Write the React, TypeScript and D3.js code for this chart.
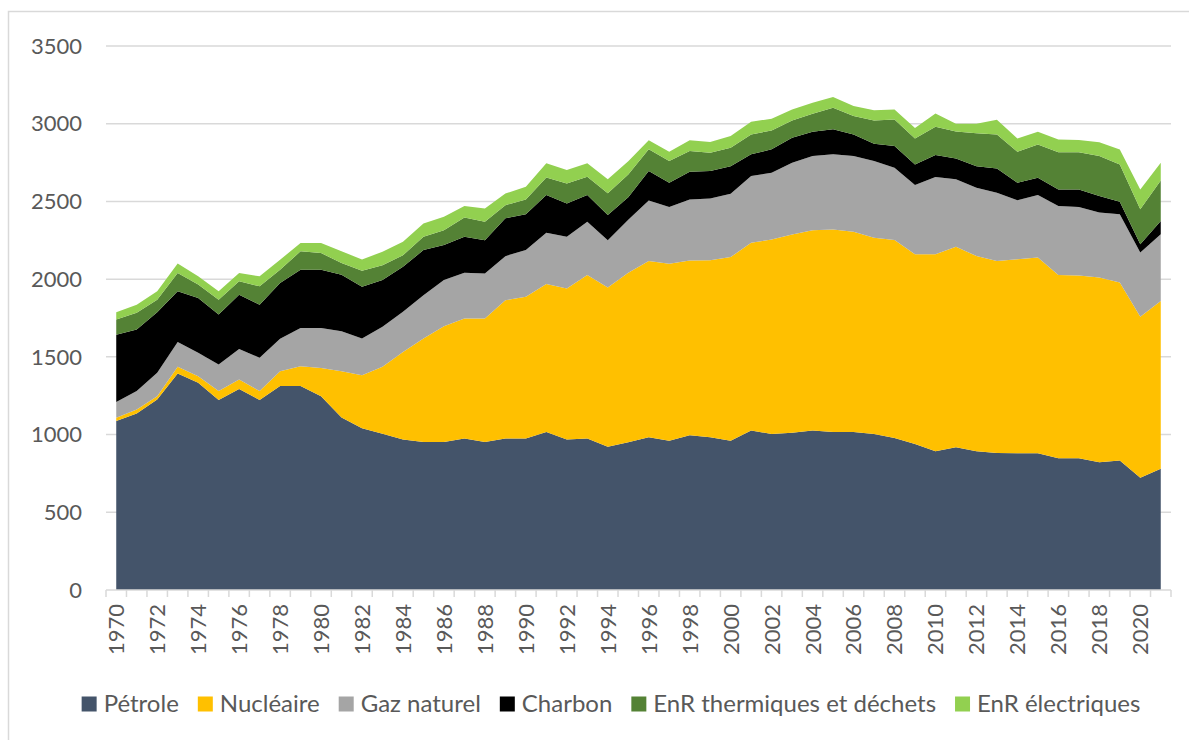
import React, { useRef, useEffect } from 'react'
import * as d3 from 'd3'

const YEARS = [
  1970, 1971, 1972, 1973, 1974, 1975, 1976, 1977, 1978, 1979,
  1980, 1981, 1982, 1983, 1984, 1985, 1986, 1987, 1988, 1989,
  1990, 1991, 1992, 1993, 1994, 1995, 1996, 1997, 1998, 1999,
  2000, 2001, 2002, 2003, 2004, 2005, 2006, 2007, 2008, 2009,
  2010, 2011, 2012, 2013, 2014, 2015, 2016, 2017, 2018, 2019,
  2020, 2021,
]

const PETROLE = [
  1087, 1135, 1226, 1393, 1333, 1222, 1294, 1222, 1312, 1312,
  1247, 1110, 1040, 1006, 968, 953, 953, 974, 953, 974,
  974, 1017, 968, 974, 921, 950, 983, 961, 995, 983,
  961, 1026, 1004, 1011, 1026, 1017, 1017, 1004, 978, 940,
  893, 919, 893, 882, 880, 880, 848, 848, 822, 833,
  722, 780,
]

const NUCLEAIRE = [
  21, 26, 21, 43, 43, 58, 60, 58, 96, 128,
  182, 298, 342, 430, 564, 665, 744, 773, 794, 891,
  912, 951, 972, 1052, 1025, 1091, 1133, 1138, 1125, 1139,
  1181, 1208, 1251, 1277, 1289, 1303, 1288, 1262, 1274, 1220,
  1267, 1290, 1256, 1235, 1248, 1259, 1179, 1175, 1188, 1145,
  1036, 1080,
]

const GAZ = [
  101, 119, 150, 160, 150, 171, 197, 214, 208, 246,
  257, 257, 236, 257, 258, 279, 297, 294, 289, 283,
  301, 330, 332, 343, 305, 341, 390, 365, 393, 397,
  407, 429, 430, 461, 477, 483, 487, 494, 464, 445,
  497, 433, 439, 439, 379, 402, 443, 441, 418, 439,
  413, 429,
]

const CHARBON = [
  434, 396, 390, 326, 353, 321, 349, 342, 359, 375,
  375, 364, 333, 301, 289, 290, 225, 231, 215, 243,
  231, 243, 215, 172, 161, 145, 189, 156, 178, 176,
  178, 140, 150, 161, 156, 161, 139, 111, 140, 133,
  141, 134, 139, 156, 113, 111, 107, 113, 107, 81,
  53, 85,
]

const ENR_THERMIQUES = [
  97, 107, 81, 118, 86, 96, 86, 118, 86, 118,
  107, 75, 103, 96, 75, 85, 96, 125, 118, 85,
  95, 113, 129, 118, 140, 146, 140, 140, 133, 118,
  118, 128, 122, 111, 116, 139, 118, 150, 171, 167,
  182, 174, 211, 219, 199, 214, 240, 240, 257, 240,
  225, 261,
]

const ENR_ELECTRIQUES = [
  47, 53, 54, 60, 53, 54, 54, 64, 64, 53,
  64, 75, 73, 86, 86, 86, 86, 73, 86, 75,
  81, 91, 86, 86, 90, 85, 58, 60, 69, 69,
  76, 82, 75, 71, 71, 69, 65, 65, 64, 68,
  85, 49, 61, 94, 86, 82, 81, 79, 89, 96,
  128, 114,
]

const Y_TICKS = [0, 500, 1000, 1500, 2000, 2500, 3000, 3500]

const SERIES = [
  { key: 'petrole', label: 'Pétrole', color: '#44546A', values: PETROLE },
  { key: 'nucleaire', label: 'Nucléaire', color: '#FFC000', values: NUCLEAIRE },
  { key: 'gaz', label: 'Gaz naturel', color: '#A5A5A5', values: GAZ },
  { key: 'charbon', label: 'Charbon', color: '#000000', values: CHARBON },
  { key: 'enrth', label: 'EnR thermiques et déchets', color: '#548235', values: ENR_THERMIQUES },
  { key: 'enrel', label: 'EnR électriques', color: '#92D050', values: ENR_ELECTRIQUES },
]

const W = 1189
const H = 740
const FONT = 'Lato, "Open Sans", sans-serif'
const TEXT = '#595959'
const GRID = '#d9d9d9'

export default function App() {
  const svgRef = useRef<SVGSVGElement>(null)

  useEffect(() => {
    if (!svgRef.current) return
    const svg = d3.select(svgRef.current)
    svg.selectAll('*').remove()

    const plot = { left: 106, right: 1171, top: 46, bottom: 590 }

    // chart area border (only left/top visible in the crop)
    svg.append('rect')
      .attr('x', 8.5).attr('y', 11.5)
      .attr('width', W + 20).attr('height', H + 20)
      .attr('fill', '#fff').attr('stroke', GRID).attr('stroke-width', 1.5)

    const x = d3.scaleBand<number>().domain(YEARS).range([plot.left, plot.right]).padding(0)
    const cx = (yr: number) => (x(yr) as number) + x.bandwidth() / 2
    const y = d3.scaleLinear().domain([0, 3500]).range([plot.bottom, plot.top])

    // gridlines
    svg.append('g').selectAll('line')
      .data(Y_TICKS.filter(t => t > 0))
      .enter().append('line')
      .attr('x1', plot.left).attr('x2', plot.right)
      .attr('y1', d => y(d)).attr('y2', d => y(d))
      .attr('stroke', GRID).attr('stroke-width', 1.5)

    // stacked areas
    const table = YEARS.map((yr, i) => {
      const row: Record<string, number> = { year: yr }
      SERIES.forEach(s => { row[s.key] = s.values[i] })
      return row
    })
    const stack = d3.stack<Record<string, number>>().keys(SERIES.map(s => s.key))
    const layers = stack(table)
    const area = d3.area<any>()
      .x(d => cx(d.data.year))
      .y0(d => y(d[0]))
      .y1(d => y(d[1]))

    svg.append('g').selectAll('path')
      .data(layers)
      .enter().append('path')
      .attr('d', d => area(d as any))
      .attr('fill', (_, i) => SERIES[i].color)

    // x axis line + tick marks between categories
    svg.append('line')
      .attr('x1', plot.left).attr('x2', plot.right)
      .attr('y1', plot.bottom).attr('y2', plot.bottom)
      .attr('stroke', GRID).attr('stroke-width', 1.5)
    const bounds = YEARS.map(yr => x(yr) as number).concat([plot.right])
    svg.append('g').selectAll('line')
      .data(bounds)
      .enter().append('line')
      .attr('x1', d => d).attr('x2', d => d)
      .attr('y1', plot.bottom).attr('y2', plot.bottom + 7)
      .attr('stroke', GRID).attr('stroke-width', 1.5)

    // y labels
    svg.append('g').selectAll('text')
      .data(Y_TICKS)
      .enter().append('text')
      .attr('x', 82).attr('y', d => y(d))
      .attr('dy', '0.35em')
      .attr('text-anchor', 'end')
      .style('font-family', FONT).style('font-size', '22px').attr('fill', TEXT)
      .text(d => d)

    // x labels (every other year, rotated)
    svg.append('g').selectAll('text')
      .data(YEARS.filter(yr => yr % 2 === 0))
      .enter().append('text')
      .attr('transform', d => `translate(${cx(d)},${plot.bottom + 14}) rotate(-90)`)
      .attr('dy', '0.36em')
      .attr('text-anchor', 'end')
      .style('font-family', FONT).style('font-size', '22px').attr('fill', TEXT)
      .text(d => d)

    // legend, centred
    const legend = svg.append('g')
    const items = SERIES.map(s => {
      const g = legend.append('g')
      g.append('rect').attr('width', 15).attr('height', 15).attr('y', -7.5).attr('fill', s.color)
      const t = g.append('text')
        .attr('x', 22).attr('dy', '0.35em')
        .style('font-family', FONT).style('font-size', '24px').attr('fill', TEXT)
        .text(s.label)
      const w = 22 + (t.node() as SVGTextElement).getComputedTextLength()
      return { g, w }
    })
    const gap = 19
    const total = d3.sum(items, d => d.w) + gap * (items.length - 1)
    let pos = 611 - total / 2
    items.forEach(it => {
      it.g.attr('transform', `translate(${pos},704)`)
      pos += it.w + gap
    })
  }, [])

  return (
    <svg
      ref={svgRef}
      width={W}
      height={H}
      style={{ position: 'absolute', left: 0, top: 0, background: '#fff' }}
    />
  )
}
